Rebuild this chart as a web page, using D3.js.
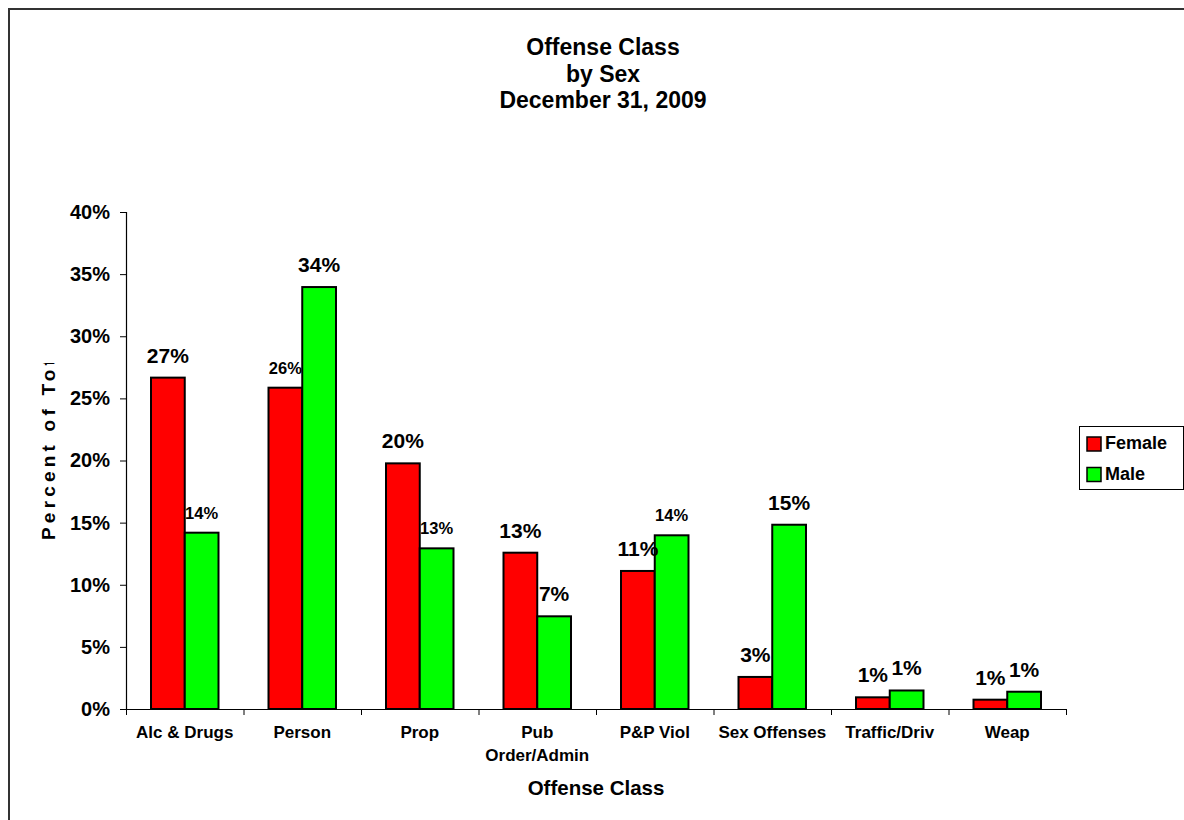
<!DOCTYPE html>
<html>
<head>
<meta charset="utf-8">
<script src="https://cdn.jsdelivr.net/npm/d3@7"></script>
<style>
  html, body { margin: 0; padding: 0; background: #fff; }
  svg { display: block; font-family: Arial, "Liberation Sans", sans-serif; font-weight: bold; }
</style>
</head>
<body>
<svg id="chart" width="1184" height="820"></svg>
<script>
// ---- data ----
const categories = ["Alc & Drugs", "Person", "Prop", "Pub Order/Admin", "P&P Viol", "Sex Offenses", "Traffic/Driv", "Weap"];
const categoryLabels = [["Alc & Drugs"], ["Person"], ["Prop"], ["Pub", "Order/Admin"], ["P&P Viol"], ["Sex Offenses"], ["Traffic/Driv"], ["Weap"]];
const seriesNames = ["Female", "Male"];
const femaleValues = [26.67, 25.86, 19.77, 12.58, 11.11, 2.58, 0.94, 0.75];
const maleValues   = [14.19, 33.96, 12.93, 7.46, 13.98, 14.83, 1.49, 1.39];
const yTicks = [0, 5, 10, 15, 20, 25, 30, 35, 40];
const titleLines = ["Offense Class", "by Sex", "December 31, 2009"];
const xAxisTitle = "Offense Class";
const yAxisTitle = "Percent of Total";

// ---- styling ----
const colors = { Female: "#FF0000", Male: "#00FF00" };
// labels that Excel drew in a smaller font
const smallLabels = new Set(["Male|Alc & Drugs", "Female|Person", "Male|Prop", "Male|P&P Viol"]);

const svg = d3.select("#chart");
const W = 1184, H = 820;
const plot = { left: 126, right: 1066, top: 212, bottom: 709 };

svg.append("rect").attr("width", W).attr("height", H).attr("fill", "#fff");
// outer chart border (extends past right/bottom edges)
svg.append("rect").attr("x", 9).attr("y", 9).attr("width", 1220).attr("height", 840)
  .attr("fill", "none").attr("stroke", "#333").attr("stroke-width", 2);

const x0 = d3.scaleBand().domain(categories).range([plot.left, plot.right]).paddingInner(0).paddingOuter(0);
const bw = x0.bandwidth();
const x1 = d3.scaleBand().domain(seriesNames).range([bw * 25 / 117.5, bw * 92.5 / 117.5]).padding(0);
const y = d3.scaleLinear().domain([0, 40]).range([plot.bottom, plot.top]);

const data = [];
categories.forEach((c, i) => {
  data.push({ cat: c, series: "Female", value: femaleValues[i] });
  data.push({ cat: c, series: "Male", value: maleValues[i] });
});

// bars
svg.append("g").selectAll("rect").data(data).join("rect")
  .attr("x", d => x0(d.cat) + x1(d.series))
  .attr("y", d => y(d.value))
  .attr("width", x1.bandwidth())
  .attr("height", d => y(0) - y(d.value))
  .attr("fill", d => colors[d.series])
  .attr("stroke", "#000").attr("stroke-width", 2);

// y axis
const yAxis = d3.axisLeft(y).tickValues(yTicks).tickFormat(d => d + "%").tickSizeOuter(0).tickSize(6).tickPadding(10);
const gy = svg.append("g").attr("transform", `translate(${plot.left},0)`).call(yAxis);
gy.select(".domain").attr("stroke", "#000").attr("stroke-width", 1.2);
gy.selectAll(".tick line").attr("stroke", "#000");
gy.selectAll(".tick text").attr("font-size", 20).attr("font-weight", "bold")
  .attr("font-family", "Arial, 'Liberation Sans', sans-serif").attr("fill", "#000");

// x axis (ticks at category boundaries)
const xb = d3.scaleLinear().domain([0, categories.length]).range([plot.left, plot.right]);
const gx = svg.append("g").attr("transform", `translate(0,${plot.bottom})`)
  .call(d3.axisBottom(xb).tickValues(d3.range(0, categories.length + 1)).tickFormat("").tickSize(6).tickSizeOuter(0));
gx.select(".domain").attr("stroke", "#000").attr("stroke-width", 1.2);
gx.selectAll(".tick line").attr("stroke", "#000");

// category labels
const catG = svg.append("g");
categories.forEach((c, i) => {
  const t = catG.append("text")
    .attr("x", x0(c) + bw / 2).attr("y", 737.5)
    .attr("text-anchor", "middle").attr("font-size", 17).attr("fill", "#000");
  categoryLabels[i].forEach((line, j) => {
    t.append("tspan").attr("x", x0(c) + bw / 2).attr("dy", j === 0 ? 0 : 23.5).text(line);
  });
});

// data labels
const fmt = d3.format(".0%");
svg.append("g").selectAll("text").data(data).join("text")
  .attr("x", d => x0(d.cat) + x1(d.series) + x1.bandwidth() / 2)
  .attr("y", d => y(d.value) - (smallLabels.has(d.series + "|" + d.cat) ? 14 : 15))
  .attr("text-anchor", "middle")
  .attr("font-size", d => smallLabels.has(d.series + "|" + d.cat) ? 16.5 : 21)
  .attr("fill", "#000")
  .text(d => fmt(d.value / 100));

// title
const tt = svg.append("text").attr("text-anchor", "middle").attr("font-size", 23).attr("fill", "#000");
titleLines.forEach((l, i) => {
  tt.append("tspan").attr("x", 603).attr("y", 55 + i * 26.5).text(l);
});

// x axis title
svg.append("text").attr("x", (plot.left + plot.right) / 2).attr("y", 795)
  .attr("text-anchor", "middle").attr("font-size", 20.5).attr("fill", "#000").text(xAxisTitle);

// y axis title (clipped as in the original)
svg.append("clipPath").attr("id", "ytclip").append("rect")
  .attr("x", 0).attr("y", 363).attr("width", 120).attr("height", 400);
svg.append("g").attr("clip-path", "url(#ytclip)")
  .append("text")
  .attr("transform", "translate(55,540) rotate(-90)")
  .attr("text-anchor", "start").attr("font-size", 19).attr("letter-spacing", 4.2).attr("fill", "#000")
  .text(yAxisTitle);

// legend
const lg = svg.append("g");
lg.append("rect").attr("x", 1079.5).attr("y", 426.5).attr("width", 104).attr("height", 63)
  .attr("fill", "#fff").attr("stroke", "#000").attr("stroke-width", 1);
seriesNames.forEach((s, i) => {
  lg.append("rect").attr("x", 1087).attr("y", 437 + i * 30.5).attr("width", 14).attr("height", 14)
    .attr("fill", colors[s]).attr("stroke", "#000").attr("stroke-width", 1.5);
  lg.append("text").attr("x", 1105).attr("y", 449 + i * 30.5).attr("font-size", 18).attr("fill", "#000").text(s);
});
</script>
</body>
</html>
